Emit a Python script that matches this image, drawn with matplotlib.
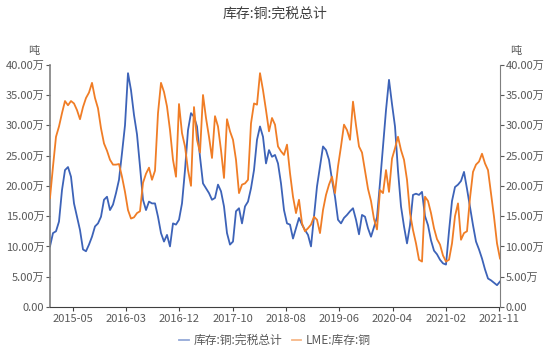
import numpy as np
from matplotlib import pyplot as plt
from matplotlib.ticker import FuncFormatter

plt.rcParams["font.family"] = ["Noto Sans CJK SC", "DejaVu Sans"]

# weekly samples, left to right
tax_paid_total = [
    10.0, 12.2, 12.5, 14.1, 19.3, 22.6, 23.1, 21.5, 17.1, 14.9, 12.7, 9.5, 9.2,
    10.3, 11.6, 13.3, 13.8, 14.9, 17.7, 18.2, 16.0, 16.9, 18.8, 21.0, 25.4, 30.0,
    38.6, 35.8, 31.7, 28.5, 23.2, 17.7, 16.0, 17.4, 17.1, 17.1, 14.9, 12.2, 10.8,
    11.9, 10.0, 13.8, 13.6, 14.4, 17.1, 22.6, 29.2, 32.0, 31.4, 29.8, 24.8, 20.4,
    19.6, 18.8, 17.7, 18.0, 20.2, 19.1, 16.6, 12.2, 10.3, 10.8, 15.8, 16.3, 13.8,
    16.6, 17.4, 19.6, 22.6, 27.6, 29.8, 28.1, 23.7, 25.9, 24.8, 25.1, 23.7,
    20.4, 16.0, 13.8, 13.6, 11.3, 13.0, 14.7, 13.6, 12.7, 11.9, 10.0, 14.9, 19.9,
    23.2, 26.5, 25.9, 24.3, 21.0, 18.2, 14.4, 13.8, 14.7, 15.2, 15.8, 16.3, 14.4,
    12.0, 15.2, 14.9, 13.0, 11.6, 13.2, 14.8, 20.5, 26.5, 32.5, 37.5, 33.5, 29.8,
    22.5, 16.6, 13.3, 10.5, 13.5, 18.5, 18.7, 18.5, 19.0, 15.0, 13.5, 11.0, 9.3,
    8.7, 7.8, 7.2, 7.0, 12.5, 17.5, 19.8, 20.2, 20.8, 22.3, 19.5, 16.5, 13.5,
    10.8, 9.5, 8.0, 6.2, 4.7, 4.4, 4.0, 3.6, 4.2,
]
lme_stock = [
    18.0, 23.2, 28.1, 29.8, 32.0, 34.0, 33.3, 34.0, 33.6, 32.5, 31.0, 33.0, 34.5,
    35.4, 37.0, 34.5, 32.8, 29.5, 27.0, 25.8, 24.3, 23.5, 23.5, 23.6, 21.5, 19.0,
    16.0, 14.6, 14.8, 15.5, 15.8, 20.5, 22.0, 23.0, 21.0, 22.5, 32.0, 37.0, 35.5,
    33.1, 29.2, 24.3, 21.5, 33.5, 28.7, 26.5, 22.6, 20.0, 33.0, 27.6, 25.5, 35.0,
    31.2, 28.1, 24.6, 31.5, 29.8, 25.9, 21.3, 31.0, 29.0, 27.6, 24.3, 18.8, 20.2,
    20.4, 21.0, 30.3, 33.6, 33.4, 38.6, 35.8, 32.5, 29.0, 31.2, 30.1, 26.5,
    25.7, 25.1, 26.8, 22.1, 18.2, 15.5, 17.7, 13.8, 12.5, 13.0, 13.6, 14.9, 14.4,
    12.2, 16.0, 18.5, 20.2, 21.5, 18.8, 23.2, 26.5, 30.1, 29.2, 27.6, 33.9, 30.0,
    26.5, 25.5, 22.5, 19.5, 17.5, 14.5, 12.8, 19.3, 18.8, 22.6, 19.0, 24.5, 26.2,
    28.1, 25.9, 24.3, 21.0, 15.5, 12.7, 10.5, 7.8, 7.5, 18.2, 17.5, 15.5, 13.0,
    11.2, 10.3, 8.5, 7.5, 7.8, 10.5, 15.0, 17.1, 11.1, 12.2, 12.5, 18.0, 22.3,
    23.5, 24.0, 25.3, 23.7, 22.6, 18.8, 14.9, 10.5, 8.0,
]
date_labels = ["2015-05", "2016-03", "2016-12", "2017-10", "2018-08",
               "2019-06", "2020-04", "2021-02", "2021-11"]

blue = "#3D63B8"
orange = "#F07D26"
grey = "#595959"

fig = plt.figure(figsize=(5.5, 3.51), dpi=100)
ax = fig.add_axes([0.0909, 0.1254, 0.8182, 0.6903])
ax2 = ax.twinx()

x = np.arange(len(tax_paid_total))
l1, = ax.plot(x, tax_paid_total, color=blue, lw=1.3, label="库存:铜:完税总计")
l2, = ax2.plot(x, lme_stock, color=orange, lw=1.3, label="LME:库存:铜")

fmt = FuncFormatter(lambda v, p: "0.00" if v == 0 else f"{v:.2f}万")
for a in (ax, ax2):
    a.set_ylim(0, 40)
    a.set_yticks(np.arange(0, 41, 5))
    a.yaxis.set_major_formatter(fmt)
    a.set_xlim(0, len(x) - 1)
    a.tick_params(axis="y", labelsize=8, colors=grey, length=3, pad=1)
    for s in ("top",):
        a.spines[s].set_visible(False)
ax.spines["right"].set_visible(False)
ax2.spines["left"].set_visible(False)
ax2.spines["bottom"].set_visible(False)
ax.spines["left"].set_color("#7f7f7f")
ax.spines["left"].set_linewidth(1.2)
ax2.spines["right"].set_color("#7f7f7f")
ax.spines["bottom"].set_color("#404040")

tick_pos = np.linspace(7.57, 149.7, len(date_labels))
ax.set_xticks(tick_pos)
ax.set_xticklabels(date_labels)
ax.tick_params(axis="x", labelsize=8, colors=grey, length=3, pad=2)
ax.tick_params(axis="x", color="#404040")

fig.text(0.5, 0.96, "库存:铜:完税总计", ha="center", va="center",
         fontsize=10, color="#404040")
fig.text(0.062, 0.855, "吨", ha="center", va="center", fontsize=8, color=grey)
fig.text(0.937, 0.855, "吨", ha="center", va="center", fontsize=8, color=grey)

leg = fig.legend(handles=[l1, l2], loc="center", bbox_to_anchor=(0.5, 0.03),
                 ncol=2, frameon=False, fontsize=8.5, handlelength=0.8,
                 handletextpad=0.4, columnspacing=0.8)
for t in leg.get_texts():
    t.set_color(grey)
for h in leg.legend_handles:
    h.set_alpha(0.55)

fig.savefig("out.png", dpi=100)
